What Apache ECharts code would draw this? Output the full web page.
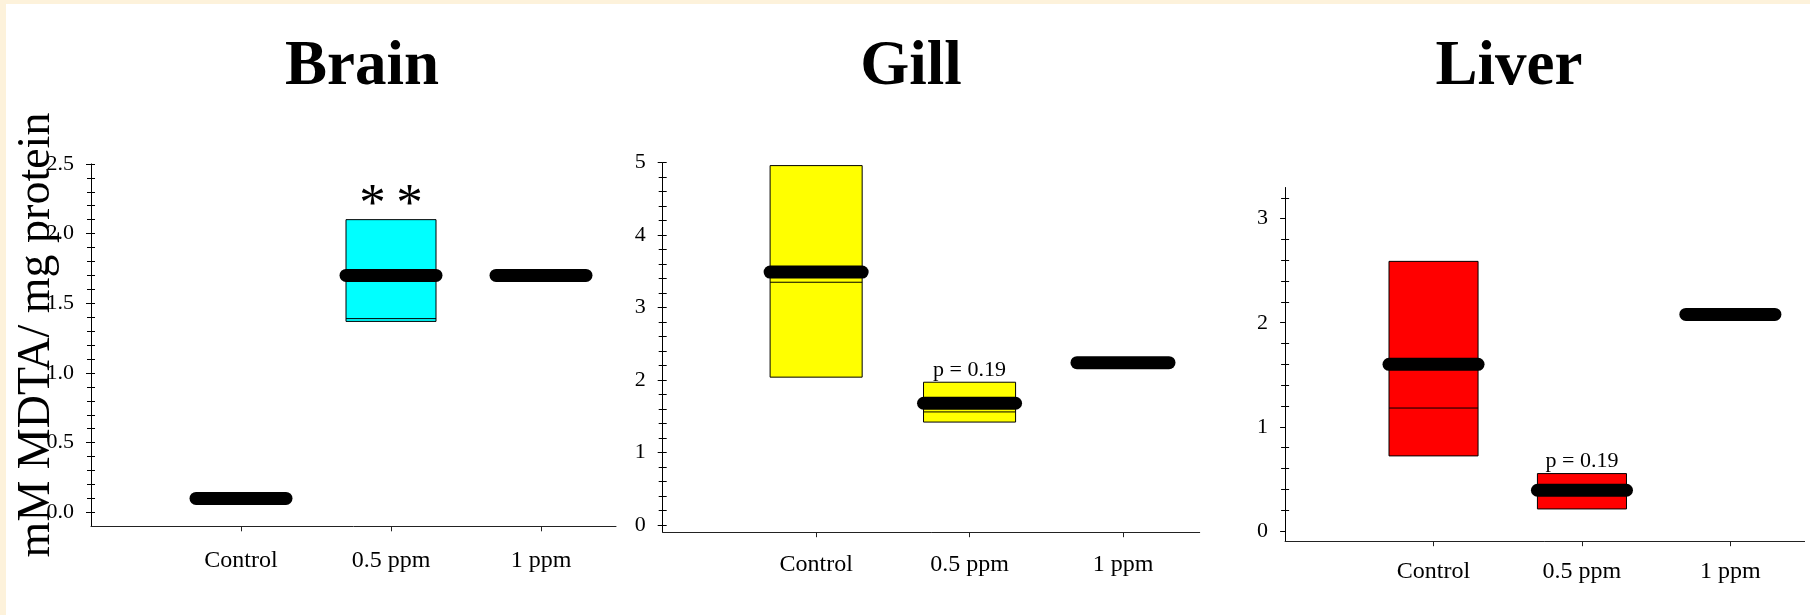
<!DOCTYPE html>
<html>
<head>
<meta charset="utf-8">
<script src="https://cdn.jsdelivr.net/npm/echarts@6/dist/echarts.min.js"></script>
<style>
html,body{margin:0;padding:0;background:#FDF2DB;}
#chart{width:1810px;height:615px;}
</style>
</head>
<body>
<div id="chart"></div>
<script>
// ---------- data ----------
const categories = ['Control', '0.5 ppm', '1 ppm'];
const panelTitles = ['Brain', 'Gill', 'Liver'];
const yAxisTitle = 'mM MDTA/ mg protein';

// Brain
const brainMean = [0.10, 1.70, 1.70];
const brainBoxLow = [null, 1.37, null];
const brainBoxHigh = [null, 2.10, null];
const brainBoxMedian = [null, 1.39, null];
const brainNotes = [null, '*\u2009*', null];
const brainYTicks = [0, 0.5, 1.0, 1.5, 2.0, 2.5];
const brainYMinorStep = 0.1;

// Gill
const gillMean = [3.49, 1.68, 2.24];
const gillBoxLow = [2.04, 1.42, null];
const gillBoxHigh = [4.96, 1.97, null];
const gillBoxMedian = [3.35, 1.56, null];
const gillNotes = [null, 'p = 0.19', null];
const gillYTicks = [0, 1, 2, 3, 4, 5];
const gillYMinorStep = 0.2;

// Liver
const liverMean = [1.60, 0.39, 2.08];
const liverBoxLow = [0.72, 0.21, null];
const liverBoxHigh = [2.59, 0.55, null];
const liverBoxMedian = [1.18, 0.39, null];
const liverNotes = [null, 'p = 0.19', null];
const liverYTicks = [0, 1, 2, 3];
const liverYMinorStep = 0.2;

// ---------- layout / style ----------
const FONT = "'Liberation Serif', 'Times New Roman', Times, serif";
const HALF = 0.3;
const panels = [
  { title: panelTitles[0], titleX: 362, grid: {left: 91, top: 163.9, width: 525, height: 362.4}, yMin: -0.1, yMax: 2.5, minorTop: 2.4,
    color: '#00FFFF', mean: brainMean, lo: brainBoxLow, hi: brainBoxHigh, med: brainBoxMedian, notes: brainNotes,
    ticks: brainYTicks, minorStep: brainYMinorStep, digits: 1, xMargin: 22, noteSize: 53, noteGap: 14, majorInsideToo: true },
  { title: panelTitles[1], titleX: 911, grid: {left: 662.7, top: 162.7, width: 537, height: 369.5}, yMin: -0.1, yMax: 5, minorTop: 4.8,
    color: '#FFFF00', mean: gillMean, lo: gillBoxLow, hi: gillBoxHigh, med: gillBoxMedian, notes: gillNotes,
    ticks: gillYTicks, minorStep: gillYMinorStep, digits: 0, xMargin: 21, noteSize: 22, noteGap: 12, majorInsideToo: true },
  { title: panelTitles[2], titleX: 1509, grid: {left: 1285.1, top: 187.5, width: 519.5, height: 353.7}, yMin: -0.1, yMax: 3.3, minorTop: 3.2,
    color: '#FF0000', mean: liverMean, lo: liverBoxLow, hi: liverBoxHigh, med: liverBoxMedian, notes: liverNotes,
    ticks: liverYTicks, minorStep: liverYMinorStep, digits: 0, xMargin: 19, noteSize: 22, noteGap: 12.5, majorInsideToo: false }
];

function minorTicks(p) {
  const out = [];
  const n = Math.round(p.minorTop / p.minorStep);
  for (let i = 1; i <= n; i++) {
    const v = +(i * p.minorStep).toFixed(4);
    if (!p.ticks.some(t => Math.abs(t - v) < 1e-6)) out.push(v);
  }
  return out;
}

const grids = [], xAxes = [], yAxes = [], series = [];
panels.forEach((p, k) => {
  grids.push(Object.assign({outerBoundsMode: 'none', containLabel: false}, p.grid));
  xAxes.push({
    type: 'value', gridIndex: k, min: 0, max: 3.5,
    axisLine: {show: true, onZero: false, lineStyle: {color: '#222', width: 1}},
    axisTick: {show: true, length: 5, inside: false, customValues: [1, 2, 3], lineStyle: {color: '#222'}},
    axisLabel: {show: true, customValues: [1, 2, 3], margin: p.xMargin, fontSize: 24, fontFamily: FONT, color: '#000',
      formatter: v => categories[Math.round(v) - 1] || ''},
    splitLine: {show: false}
  });
  const minors = minorTicks(p);
  const base = {type: 'value', gridIndex: k, position: 'left', min: p.yMin, max: p.yMax, splitLine: {show: false}};
  // main axis: line, major ticks outside, labels
  yAxes.push(Object.assign({}, base, {
    axisLine: {show: true, onZero: false, lineStyle: {color: '#000', width: 1}},
    axisTick: {show: true, inside: false, length: 5, customValues: p.ticks, lineStyle: {color: '#000'}},
    axisLabel: {show: true, customValues: p.ticks, margin: 17, fontSize: 22, fontFamily: FONT, color: '#000',
      formatter: v => Number(v).toFixed(p.digits)}
  }));
  // minor ticks outside
  yAxes.push(Object.assign({}, base, {
    axisLine: {show: false, onZero: false},
    axisTick: {show: true, inside: false, length: 4, customValues: minors, lineStyle: {color: '#000'}},
    axisLabel: {show: false}
  }));
  // ticks inside
  yAxes.push(Object.assign({}, base, {
    axisLine: {show: false, onZero: false},
    axisTick: {show: true, inside: true, length: 4, customValues: p.majorInsideToo ? p.ticks.concat(minors) : minors, lineStyle: {color: '#000'}},
    axisLabel: {show: false}
  }));
  const yIdx = k * 3;

  // boxes
  const boxData = [];
  categories.forEach((c, i) => {
    if (p.hi[i] != null) boxData.push([i + 1, p.lo[i], p.hi[i], p.med[i]]);
  });
  series.push({
    type: 'custom', xAxisIndex: k, yAxisIndex: yIdx, z: 2, silent: true,
    data: boxData,
    renderItem: (params, api) => {
      const x = api.value(0), lo = api.value(1), hi = api.value(2), med = api.value(3);
      const a = api.coord([x - HALF, hi]);
      const b = api.coord([x + HALF, lo]);
      const m1 = api.coord([x - HALF, med]);
      const m2 = api.coord([x + HALF, med]);
      return {type: 'group', children: [
        {type: 'rect', shape: {x: a[0], y: a[1], width: b[0] - a[0], height: b[1] - a[1]},
          style: {fill: p.color, stroke: '#000', lineWidth: 1}},
        {type: 'line', shape: {x1: m1[0], y1: m1[1], x2: m2[0], y2: m2[1]},
          style: {stroke: '#000', lineWidth: 1}}
      ]};
    }
  });

  // thick mean lines
  series.push({
    type: 'custom', xAxisIndex: k, yAxisIndex: yIdx, z: 3, silent: true, clip: false,
    data: categories.map((c, i) => [i + 1, p.mean[i]]),
    renderItem: (params, api) => {
      const x = api.value(0), v = api.value(1);
      const a = api.coord([x - HALF, v]);
      const b = api.coord([x + HALF, v]);
      return {type: 'line', shape: {x1: a[0], y1: a[1], x2: b[0], y2: b[1]},
        style: {stroke: '#000', lineWidth: 13, lineCap: 'round'}};
    }
  });

  // annotations
  const noteItems = [];
  categories.forEach((c, i) => {
    if (p.notes[i]) noteItems.push({x: i + 1, y: p.hi[i] != null ? p.hi[i] : p.mean[i], text: p.notes[i]});
  });
  series.push({
    type: 'custom', xAxisIndex: k, yAxisIndex: yIdx, z: 4, silent: true, clip: false,
    data: noteItems.map(n => [n.x, n.y]),
    renderItem: (params, api) => {
      const pt = api.coord([api.value(0), api.value(1)]);
      return {type: 'text', x: pt[0], y: pt[1] - p.noteGap,
        style: {text: noteItems[params.dataIndex].text, fill: '#000', fontSize: p.noteSize, fontFamily: FONT,
          align: 'center', verticalAlign: 'middle'}};
    }
  });
});

const graphics = [
  {type: 'rect', z: -100, silent: true, shape: {x: 6, y: 4, width: 1804, height: 611}, style: {fill: '#FFFFFF'}},
  {type: 'text', z: 100, silent: true, x: 36.5, y: 335, rotation: Math.PI / 2,
    style: {text: yAxisTitle, fill: '#000', fontSize: 46, fontFamily: FONT, align: 'center', verticalAlign: 'middle'}}
];
panels.forEach(p => {
  graphics.push({type: 'text', z: 100, silent: true, x: p.titleX, y: 68,
    style: {text: p.title, fill: '#000', fontSize: 63, fontWeight: 'bold', fontFamily: FONT, align: 'center', verticalAlign: 'middle'}});
});

const chart = echarts.init(document.getElementById('chart'), null, {renderer: 'canvas'});
chart.setOption({
  backgroundColor: '#FDF2DB',
  animation: false,
  grid: grids,
  xAxis: xAxes,
  yAxis: yAxes,
  series: series,
  graphic: {elements: graphics}
});
</script>
</body>
</html>
